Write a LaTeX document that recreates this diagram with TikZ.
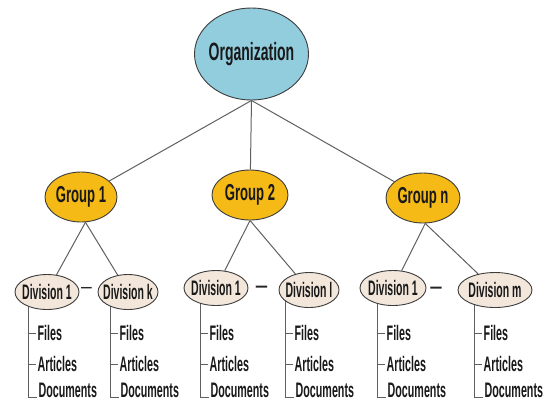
\documentclass[tikz,border=0pt]{standalone}
\usepackage{fontspec}
\setmainfont{Liberation Sans}
\newfontfamily\orgfont{Liberation Sans}[FakeStretch=0.56]
\newfontfamily\grpfont{Liberation Sans}[FakeStretch=0.57]
\newfontfamily\divfont{Liberation Sans}[FakeStretch=0.5]
\newfontfamily\leaffont{Liberation Sans}[FakeStretch=0.51]
\usetikzlibrary{shapes.geometric}
\pgfdeclarelayer{bg}
\pgfsetlayers{bg,main}
\definecolor{orgfill}{RGB}{146,205,222}
\definecolor{grpfill}{RGB}{245,186,22}
\definecolor{divfill}{RGB}{243,231,220}
\definecolor{edgec}{RGB}{60,60,60}
\definecolor{linkc}{RGB}{95,95,95}
\tikzset{
  ell/.style={ellipse, draw=edgec, line width=0.9bp, inner sep=0pt, text=black!90},
  orgst/.style={ell, fill=orgfill, minimum width=114bp, minimum height=92bp,
    font={\orgfont\bfseries\fontsize{25bp}{27bp}\selectfont}},
  grpst/.style={ell, fill=grpfill, minimum width=74bp, minimum height=50bp,
    font={\grpfont\bfseries\fontsize{23bp}{25bp}\selectfont}},
  divst/.style={ell, fill=divfill, minimum height=35bp,
    font={\divfont\bfseries\fontsize{21bp}{23bp}\selectfont}},
  leaf/.style={inner sep=1.5bp, text=black!90,
    font={\leaffont\bfseries\fontsize{21bp}{23bp}\selectfont}},
  link/.style={draw=linkc, line width=1bp},
  dashtxt/.style={inner sep=0pt, text=black!85,
    font={\grpfont\bfseries\fontsize{20bp}{22bp}\selectfont}}
}
\begin{document}
\begin{tikzpicture}[x=1bp,y=-1bp]
\useasboundingbox (0,0) rectangle (547,401);
% organization and groups
\node[orgst] (org) at (251.5,54) {\makebox[0pt]{Organization}};
\node[grpst, minimum width=72bp] (g1) at (81,197) {\makebox[0pt]{Group 1}};
\node[grpst, minimum width=76bp] (g2) at (250,195) {\makebox[0pt]{Group 2}};
\node[grpst, minimum width=74bp] (gn) at (423,198) {\makebox[0pt]{Group n}};
% divisions
\node[divst, minimum width=64bp] (d1a) at (47,292) {\makebox[0pt]{Division 1}};
\node[divst, minimum width=60bp] (dk)  at (128,292) {\makebox[0pt]{Division k}};
\node[divst, minimum width=64bp] (d1b) at (216,288) {\makebox[0pt]{Division 1}};
\node[divst, minimum width=60bp] (dl)  at (309,290) {\makebox[0pt]{Division l}};
\node[divst, minimum width=66bp] (d1c) at (393,288) {\makebox[0pt]{Division 1}};
\node[divst, minimum width=74bp] (dm)  at (495,290) {\makebox[0pt]{Division m}};
% dashes between divisions
\node[dashtxt, font={\leaffont\fontsize{21bp}{23bp}\selectfont}] (dash1) at (86.5,290) {—};
\node[dashtxt] (dash2) at (261.5,289) {—};
\node[dashtxt] (dash3) at (436,290) {—};
% connectors
\draw[link] (org.south) -- (g1);
\draw[link] (org.south) -- (g2);
\draw[link] (org.south) -- (gn);
\draw[link] (g1.-80) -- (d1a);
\draw[link] (g1.-80) -- (dk);
\draw[link] (g2.south) -- (d1b);
\draw[link] (g2.south) -- (dl);
\draw[link] (gn.-85) -- (d1c);
\draw[link] (gn.-85) -- (dm);
% leaves
\foreach \n/\tx in {1/28, 2/110, 3/200, 4/285, 5/377, 6/474}{
  \coordinate (t\n) at (\tx, 290);
  \node[leaf, anchor=west] (f\n) at (\tx+8, 333) {Files};
  \node[leaf, anchor=west] (a\n) at (\tx+8, 364) {Articles};
  \node[leaf, anchor=base west] (c\n) at (\tx+9, 397) {Documents};
  \begin{pgfonlayer}{bg}
    \draw[link] (t\n) |- (c\n.base west);
    \draw[link] (t\n |- f\n.west) -- (f\n.west);
    \draw[link] (t\n |- a\n.west) -- (a\n.west);
  \end{pgfonlayer}
}
\end{tikzpicture}
\end{document}
